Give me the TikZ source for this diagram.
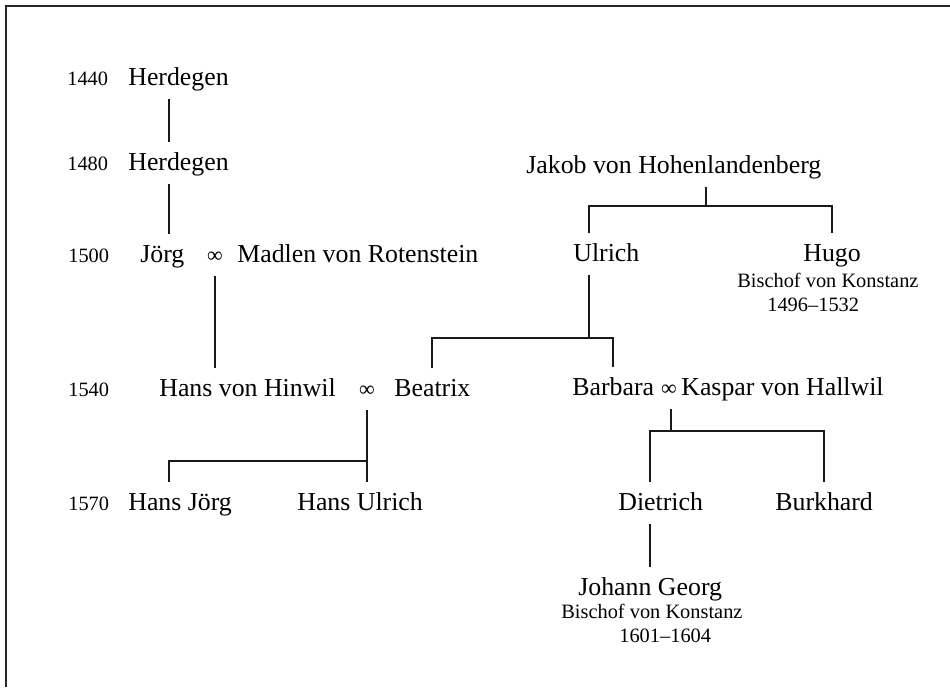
\documentclass[tikz,border=0pt]{standalone}
\usepackage{fontspec}
\setmainfont{Liberation Serif}
\usetikzlibrary{calc}

\tikzset{
  person/.style={anchor=base west, inner xsep=0pt, inner ysep=5.5pt,
    text height=10pt, text depth=2pt, font=\fontsize{14.7}{17}\selectfont},
  marr/.style={person, anchor=base, font=\fontsize{12.5}{15}\selectfont},
  year/.style={anchor=base west, inner sep=0pt, font=\fontsize{11.6}{14}\selectfont},
  note/.style={year},
  line/.style={line width=1.15pt, draw=black!90},
}

\begin{document}
\begin{tikzpicture}[x=0.02cm, y=-0.02cm]

  % --- RAHMEN ---
  \useasboundingbox (0,0) rectangle (950,687);
  \draw[line width=1.4pt, draw=black!85] (6,687) -- (6,6) -- (950,6);

  % --- JAHRESZAHLEN ---
  \node[year] (y1440) at (67,85)  {1440};
  \node[year] (y1480) at (67,170) {1480};
  \node[year] (y1500) at (68,262) {1500};
  \node[year] (y1540) at (68,396) {1540};
  \node[year] (y1570) at (68,510) {1570};

  % --- HINWIL ---
  \node[person] (herd1) at (128,85)  {Herdegen};
  \node[person] (herd2) at (128,170) {Herdegen};
  \node[person] (joerg) at (140,262) {Jörg};
  \node[marr]   (mJoerg) at (215,262) {∞};
  \node[person] (madlen) at (237,262) {Madlen von Rotenstein};
  \node[person] (hans) at (159,396) {Hans von Hinwil};
  \node[marr]   (mHans) at (367,396) {∞};
  \node[person] (beatrix) at (394,396) {Beatrix};
  \node[person] (hansjoerg) at (128,510) {Hans Jörg};
  \node[person] (hansulrich) at (297,510) {Hans Ulrich};

  % --- HOHENLANDENBERG ---
  \node[person] (jakob) at (526,173) {Jakob von Hohenlandenberg};
  \node[person] (ulrich) at (573,261) {Ulrich};
  \node[person] (hugo) at (803,261) {Hugo};
  \node[note] (hugoTitle) at (737,287) {Bischof von Konstanz};
  \node[note] (hugoYears) at (767,311) {1496–1532};
  \node[person] (barbara) at (572,395) {Barbara};
  \node[marr]   (mBarbara) at (669,395) {∞};
  \node[person] (kaspar) at (681,395) {Kaspar von Hallwil};
  \node[person] (dietrich) at (618,510) {Dietrich};
  \node[person] (burkhard) at (775,510) {Burkhard};
  \node[person] (johann) at (578,595) {Johann Georg};
  \node[note] (johannTitle) at (561,618) {Bischof von Konstanz};
  \node[note] (johannYears) at (619,642) {1601–1604};

  % --- HILFSPUNKTE ---
  \coordinate (herdLane) at (169,0);
  \coordinate (jakobFork) at (706,206);
  \coordinate (ulrichFork) at (589,338);
  \coordinate (hansFork) at (367,461);
  \coordinate (barbaraFork) at (671,431);

  % --- LINIEN ---
  \draw[line] (herd1.south -| herdLane) -- (herd2.north -| herdLane);
  \draw[line] (herd2.south -| herdLane) -- (joerg.north -| herdLane);
  \draw[line] (mJoerg.south) -- (mJoerg.south |- hans.north);

  \draw[line] (jakob.south -| jakobFork) -- (jakobFork);
  \draw[line] (ulrich.north -| ulrichFork) |- (jakobFork) -| (hugo.north);
  \draw[line] (ulrich.south -| ulrichFork) -- (ulrichFork);
  \draw[line] (beatrix.north) |- (ulrichFork) -| (barbara.north);

  \draw[line] (mHans.south) -- (mHans.south |- hansulrich.north);
  \draw[line] (hansFork) -| (hansjoerg.north -| herdLane);

  \draw[line] (mBarbara.south -| barbaraFork) -- (barbaraFork);
  \draw[line] (dietrich.north -| johann.north) |- (barbaraFork) -| (burkhard.north);
  \draw[line] (dietrich.south -| johann.north) -- (johann.north);

\end{tikzpicture}
\end{document}
